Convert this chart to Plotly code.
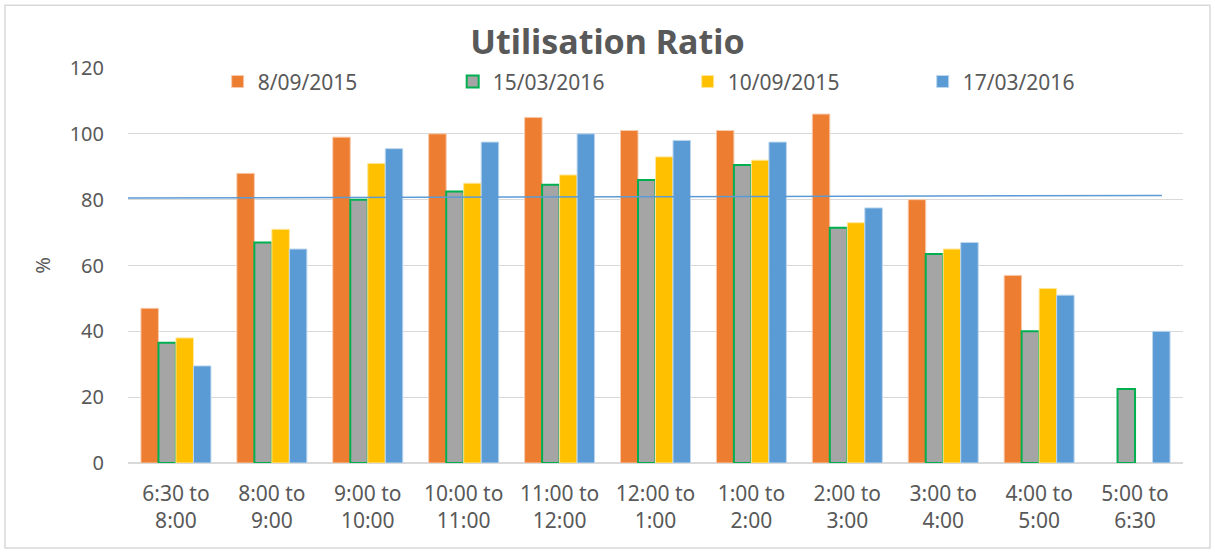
import plotly.graph_objects as go

categories = ["6:30 to<br>8:00", "8:00 to<br>9:00", "9:00 to<br>10:00", "10:00 to<br>11:00",
              "11:00 to<br>12:00", "12:00 to<br>1:00", "1:00 to<br>2:00", "2:00 to<br>3:00",
              "3:00 to<br>4:00", "4:00 to<br>5:00", "5:00 to<br>6:30"]

s_2015_09_08 = [47, 88, 99, 100, 105, 101, 101, 106, 80, 57, None]
s_2016_03_15 = [36.5, 67, 80, 82.5, 84.5, 86, 90.5, 71.5, 63.5, 40, 22.5]
s_2015_09_10 = [38, 71, 91, 85, 87.5, 93, 92, 73, 65, 53, None]
s_2016_03_17 = [29.5, 65, 95.5, 97.5, 100, 98, 97.5, 77.5, 67, 51, 40]

# reference line drawn across the plot (start, end value)
target = [80.5, 81.3]

text_col = "#595959"
font = "Noto Sans"
fs = 20

fig = go.Figure()
fig.add_trace(go.Bar(x=categories, y=s_2015_09_08, name="8/09/2015",
                     marker=dict(color="#ed7d31", line=dict(color="#f8cbad", width=1))))
fig.add_trace(go.Bar(x=categories, y=s_2016_03_15, name="15/03/2016",
                     marker=dict(color="#a5a5a5", line=dict(color="#00b050", width=2))))
fig.add_trace(go.Bar(x=categories, y=s_2015_09_10, name="10/09/2015",
                     marker=dict(color="#ffc000", line=dict(color="#ffe699", width=1))))
fig.add_trace(go.Bar(x=categories, y=s_2016_03_17, name="17/03/2016",
                     marker=dict(color="#5b9bd5", line=dict(color="#bdd7ee", width=1))))

fig.add_shape(type="line", xref="x domain", yref="y", x0=0, x1=0.98,
              y0=target[0], y1=target[1], line=dict(color="#5b9bd5", width=1.5))

# outer chart border
fig.add_shape(type="rect", xref="paper", yref="paper", x0=-0.1166, x1=1.0256,
              y0=-0.215, y1=1.159, line=dict(color="#d9d9d9", width=1.5), layer="below")

fig.update_layout(
    width=1215, height=553,
    margin=dict(l=128, r=32, t=68, b=90),
    paper_bgcolor="white", plot_bgcolor="white",
    barmode="group", bargap=0.27, bargroupgap=0,
    font=dict(family=font, size=fs, color=text_col),
    title=dict(text="<b>Utilisation Ratio</b>", x=0.5, xanchor="center", y=0.924, yanchor="middle",
               font=dict(size=34, color=text_col, family=font)),
    legend=dict(orientation="h", x=0.085, y=0.965, xanchor="left", yanchor="middle",
                entrywidth=190, font=dict(size=21, color=text_col), bgcolor="rgba(0,0,0,0)",
                itemclick=False),
    xaxis=dict(showgrid=False, ticks="", tickfont=dict(size=21, color=text_col),
               showline=False, ticklabelstandoff=16),
    yaxis=dict(range=[0, 120], dtick=20, showgrid=True, gridcolor="#d9d9d9", gridwidth=1,
               zeroline=True, zerolinecolor="#d9d9d9", zerolinewidth=1.5,
               tickfont=dict(size=fs, color=text_col), ticklabelstandoff=23,
               title=dict(text="%", font=dict(size=fs, color=text_col), standoff=13)),
)

fig.write_html("out.html", config={"displayModeBar": False},
               post_script="document.body.style.margin='0';")
